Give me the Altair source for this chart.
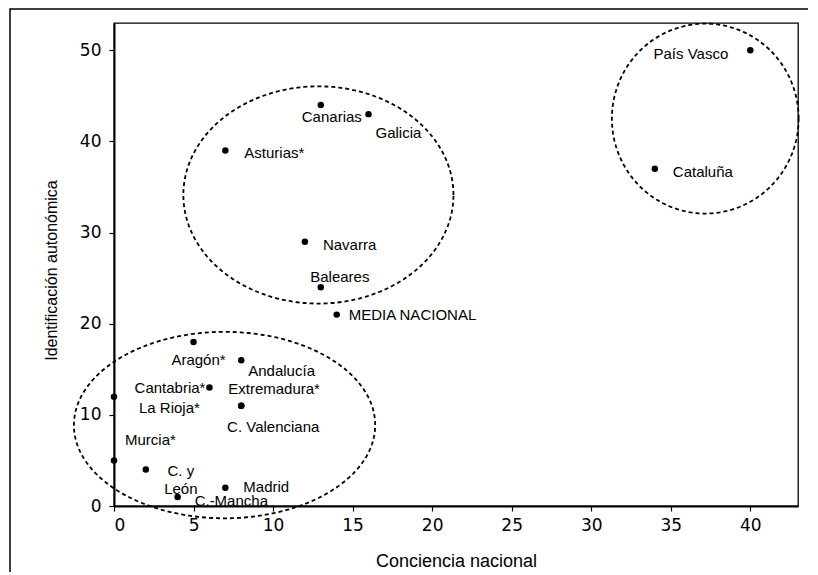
import altair as alt
import pandas as pd
import numpy as np

# ---- data ----
regiones = ["País Vasco", "Cataluña", "Canarias", "Galicia", "Asturias*", "Navarra",
            "Baleares", "MEDIA NACIONAL", "Aragón*", "Andalucía", "Cantabria*",
            "Extremadura*", "La Rioja*", "C. Valenciana", "Murcia*", "C. y\nLeón",
            "Madrid", "C.-Mancha"]
conciencia = [40, 34, 13, 16, 7, 12, 13, 14, 5, 8, 6, 8, 0, 8, 0, 2, 7, 4]
identificacion = [50, 37, 44, 43, 39, 29, 24, 21, 18, 16, 13, 11, 12, 11, 5, 4, 2, 1]

x_ticks = [0, 5, 10, 15, 20, 25, 30, 35, 40]
y_ticks = [0, 10, 20, 30, 40, 50]

# ---- annotation ellipses (centre x, centre y, radius x, radius y in data units) ----
elipse_cx = [12.85, 37.17, 6.95]
elipse_cy = [34.13, 42.51, 8.88]
elipse_rx = [8.49, 5.87, 9.47]
elipse_ry = [11.92, 10.42, 10.23]

# ---- label layout (pixel offsets from the dot) ----
label_align = ["right", "left", "center", "left", "left", "left", "center", "left",
               "center", "left", "right", "left", "left", "center", "left", "center",
               "left", "left"]
label_dx = [-22, 18, 11, 7, 19, 18, 19, 12, 5, 7, -4, -13, 25, 32, 11, 35, 18, 17]
label_dy = [4, 3, 12, 19, 2, 3, -10, 0, 18, 11, 0, -17, 11, 21, -20, 1, -1, 4]

W, H = 684, 483
XMAX, YMAX = 43, 53
PX_X = W / XMAX
PX_Y = H / YMAX

df = pd.DataFrame({
    "region": regiones,
    "conciencia": conciencia,
    "identificacion": identificacion,
    "align": label_align,
})
df["lx"] = df["conciencia"] + np.array(label_dx) / PX_X
df["ly"] = df["identificacion"] - np.array(label_dy) / PX_Y

rows = []
t = np.linspace(0, 2 * np.pi, 241)
for g, (cx, cy, rx, ry) in enumerate(zip(elipse_cx, elipse_cy, elipse_rx, elipse_ry)):
    for k, tt in enumerate(t):
        rows.append({"g": g, "k": k, "ex": cx + rx * np.cos(tt), "ey": cy + ry * np.sin(tt)})
edf = pd.DataFrame(rows)

FONT = "Liberation Sans"

xscale = alt.Scale(domain=[0, XMAX], nice=False, zero=False)
yscale = alt.Scale(domain=[0, YMAX], nice=False, zero=False)

xaxis = alt.Axis(values=x_ticks, title="Conciencia nacional", grid=False,
                 titleY=55, titleBaseline="middle", labelPadding=6, titleFontSize=18)
yaxis = alt.Axis(values=y_ticks, title="Identificación autonómica", grid=False,
                 titleX=-63, titleY=247, titleAngle=-90, titleAlign="center",
                 titleBaseline="middle", labelPadding=8, titleFontSize=16)

ellipses = alt.Chart(edf).mark_line(
    color="black", strokeWidth=1.8, strokeDash=[4, 3]
).encode(
    x=alt.X("ex:Q", scale=xscale, axis=xaxis),
    y=alt.Y("ey:Q", scale=yscale, axis=yaxis),
    detail="g:N",
    order="k:Q",
)

points = alt.Chart(df).mark_circle(size=42, color="black", opacity=1).encode(
    x=alt.X("conciencia:Q", scale=xscale),
    y=alt.Y("identificacion:Q", scale=yscale),
)

def labels(al):
    return alt.Chart(df).transform_filter(
        alt.datum.align == al
    ).mark_text(
        align=al, baseline="middle", font=FONT, fontSize=15, color="black",
        lineBreak="\n", lineHeight=18
    ).encode(
        x=alt.X("lx:Q", scale=xscale),
        y=alt.Y("ly:Q", scale=yscale),
        text="region:N",
    )

frame = alt.Chart(pd.DataFrame({"a": [0]})).mark_rect(
    fill="transparent", stroke="black", strokeWidth=1.5
).encode(
    x=alt.value(-104), x2=alt.value(720), y=alt.value(-14), y2=alt.value(620)
)

chart = alt.layer(
    frame, ellipses, points, labels("left"), labels("right"), labels("center")
).properties(
    width=W, height=H,
    autosize=alt.AutoSizeParams(type="none"),
    padding={"left": 106, "top": 15, "right": 10, "bottom": 66},
).configure_view(
    stroke="black", strokeWidth=1.3
).configure_axis(
    domainColor="black", domainWidth=2, tickColor="black", tickWidth=1.2, tickSize=5,
    labelFont="DejaVu Sans", labelFontSize=17, labelColor="black",
    titleFont=FONT, titleFontWeight="normal", titleColor="black",
)

chart.save("out.html", embed_options={"renderer": "svg", "actions": False})
